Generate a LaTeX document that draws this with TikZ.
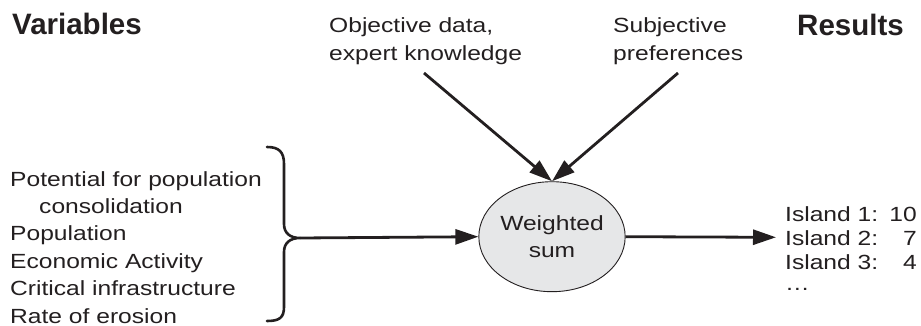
\documentclass[tikz,border=0pt]{standalone}
\usepackage{fontspec}
\setmainfont{Liberation Sans}[FakeStretch=1.2]
\newfontfamily\titlefont{Liberation Sans}
\usetikzlibrary{shapes.geometric,arrows.meta}
\definecolor{ink}{HTML}{231F20}
\definecolor{bubble}{HTML}{E6E7E8}
\begin{document}
\begin{tikzpicture}[x=1pt,y=-1pt,
  txt/.style={anchor=base west,inner sep=0pt,text=ink,font=\fontsize{20.5}{27}\selectfont},
  title/.style={anchor=base west,inner sep=0pt,text=ink,font=\titlefont\bfseries\fontsize{29.5}{34}\selectfont},
  conn/.style={draw=ink,line width=2.8pt,-{Triangle[length=23pt,width=15pt]}},
  bracestyle/.style={draw=ink,line width=2.6pt,line cap=round,line join=round}]
\useasboundingbox (0,0) rectangle (921,326);
% titles
\node[title] (tvar) at (12,35) {Variables};
\node[title] (tres) at (797,36) {Results};
% top labels
\node[txt] (obj1) at (329,33) {Objective data,};
\node[txt] (obj2) at (329,61) {expert knowledge};
\node[txt] (sub1) at (613,33) {Subjective};
\node[txt] (sub2) at (613,61) {preferences};
\coordinate (objend) at (424,73);
\coordinate (subend) at (678,73);
% variables
\node[txt] (v1) at (10,186) {Potential for population};
\node[txt] (v2) at (39,213.4) {consolidation};
\node[txt] (v3) at (10,240.8) {Population};
\node[txt] (v4) at (10,268.2) {Economic Activity};
\node[txt] (v5) at (10,295.6) {Critical infrastructure};
\node[txt] (v6) at (10,323) {Rate of erosion};
% brace
\coordinate (btip) at (300,238);
\draw[bracestyle] (267,147) .. controls (279,147) and (284,152) .. (284,164) -- (284,224)
  .. controls (284,233) and (290,238) .. (btip)
  .. controls (290,238) and (284,243) .. (284,252) -- (284,307)
  .. controls (284,318) and (279,321) .. (267,321);
% weighted sum
\node[ellipse,draw=ink,line width=0.9pt,fill=bubble,minimum width=132.6pt,minimum height=110pt,inner sep=0pt,
  align=center,text=ink,font=\fontsize{20.5}{26.5}\selectfont] (ws) at (552,236.7) {Weighted\\sum};
% results
\node[txt] (r1) at (785,221) {Island 1:};
\node[txt,anchor=base east] (r1v) at (917,221) {10};
\node[txt] (r2) at (785,245) {Island 2:};
\node[txt,anchor=base east] (r2v) at (917,245) {7};
\node[txt] (r3) at (785,269) {Island 3:};
\node[txt,anchor=base east] (r3v) at (917,269) {4};
\node[txt] (r4) at (785,290) {\dots};
\coordinate (resstart) at (776,237.3);
% connectors
\draw[conn] (objend) -- (ws.north);
\draw[conn] (subend) -- (ws.north);
\draw[conn] (btip) -- (ws.west);
\draw[conn] (ws.east) -- (resstart);
\end{tikzpicture}
\end{document}
